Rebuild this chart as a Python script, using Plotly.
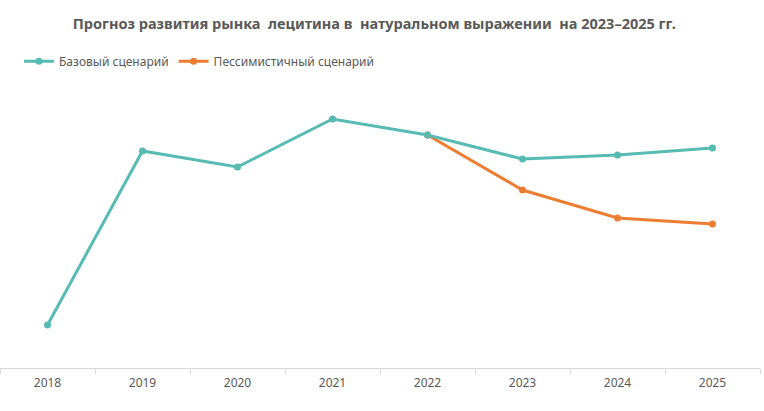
import plotly.graph_objects as go

years = ["2018", "2019", "2020", "2021", "2022", "2023", "2024", "2025"]
base_values = [4.3, 21.7, 20.1, 24.9, 23.3, 20.9, 21.3, 22.0]
pess_years = ["2022", "2023", "2024", "2025"]
pess_values = [23.3, 17.8, 15.0, 14.4]

teal = "#56BBB2"
orange = "#ED7D31"
grey = "#595959"

fig = go.Figure()
fig.add_trace(go.Scatter(
    x=pess_years, y=pess_values, name="Пессимистичный сценарий",
    mode="lines+markers", line=dict(color=orange, width=3),
    marker=dict(size=7, color=orange), legendrank=2,
))
fig.add_trace(go.Scatter(
    x=years, y=base_values, name="Базовый сценарий",
    mode="lines+markers", line=dict(color=teal, width=3),
    marker=dict(size=7, color=teal), legendrank=1,
))

fig.update_layout(
    width=764, height=411,
    margin=dict(l=0, r=4, t=80, b=43, autoexpand=False),
    paper_bgcolor="white", plot_bgcolor="white",
    font=dict(family="Noto Sans", color=grey, size=12),
    title=dict(
        text="<b>Прогноз развития рынка  лецитина в  натуральном выражении  на 2023–2025 гг.</b>",
        x=0.49, xanchor="center", y=0.942, yanchor="middle",
        font=dict(size=14.5, color=grey, family="Noto Sans"),
    ),
    legend=dict(
        orientation="h", x=0.025, xanchor="left", y=1.065, yanchor="middle",
        font=dict(size=12, color=grey), itemwidth=30,
    ),
    showlegend=True,
)
fig.update_xaxes(
    type="category", categoryorder="array", categoryarray=years,
    range=[-0.5, 7.5], tickson="boundaries",
    showline=True, linecolor="#D9D9D9", linewidth=1,
    ticks="outside", ticklen=5, tickcolor="#D9D9D9",
    ticklabelstandoff=4,
    showgrid=False, zeroline=False, automargin=False,
    tickfont=dict(size=12, color=grey),
)
fig.update_yaxes(
    range=[0, 28.8], visible=False, showgrid=False, zeroline=False,
)

fig.write_html(
    "out.html",
    config={"displayModeBar": False},
    post_script="document.body.style.margin='0';",
)
